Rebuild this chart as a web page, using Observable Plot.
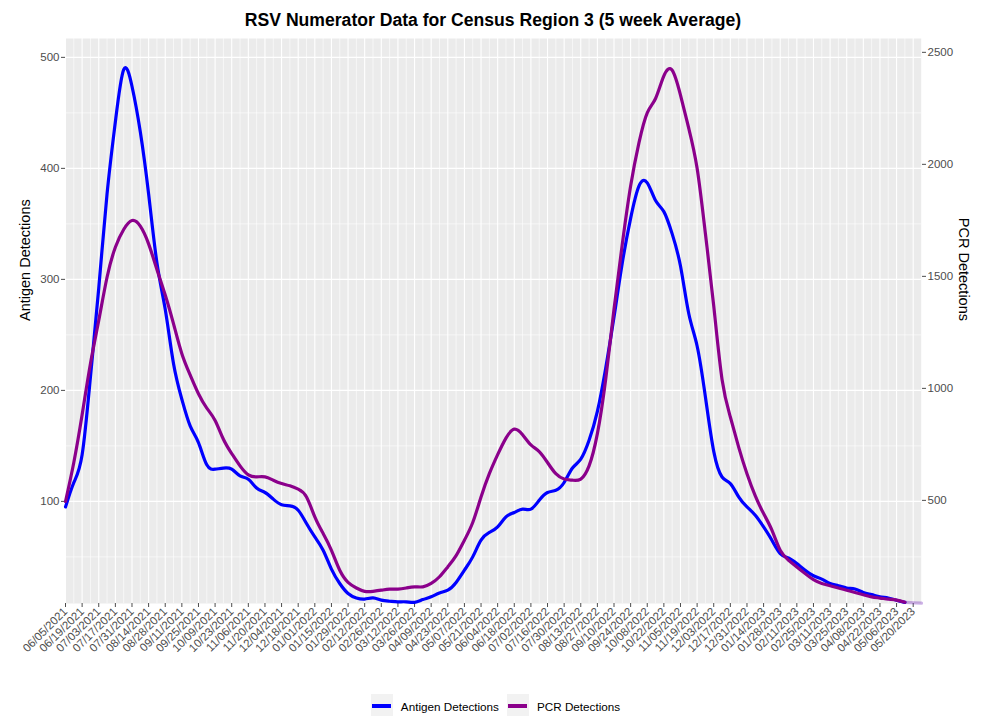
<!DOCTYPE html>
<html>
<head>
<meta charset="utf-8">
<script src="https://cdn.jsdelivr.net/npm/d3@7"></script>
<script src="https://cdn.jsdelivr.net/npm/@observablehq/plot@0.6"></script>
<style>
  html, body { margin: 0; padding: 0; background: white; }
  #wrap { position: relative; width: 991px; height: 716px; font-family: "Liberation Sans", Arial, sans-serif; overflow: hidden; }
  #title { position: absolute; top: 10px; left: 0; width: 986px; text-align: center; font-weight: bold; font-size: 17.6px; color: #000; }
  #chart { position: absolute; top: 32px; left: 0; }
  #legend { position: absolute; top: 694px; left: 0; width: 991px; display: flex; justify-content: center; align-items: center; font-size: 11.7px; color: #000; }
  .key { width: 22px; height: 24px; background: #F2F2F2; display: flex; align-items: center; justify-content: center; margin-right: 8px; }
  .key span { display: block; width: 19px; height: 3.2px; }
  .item { display: flex; align-items: center; margin: 0 4px; }
</style>
</head>
<body>
<div id="wrap">
  <div id="title">RSV Numerator Data for Census Region 3 (5 week Average)</div>
  <div id="chart"></div>
  <div id="legend"></div>
</div>
<script>
// ---- Data (weekly, starting 06/05/2021) ----
const startDate = "06/05/2021";
const antigen = [95,117,142,212,292,377,442,489,474,433,377,315,273,224,192,168,153,133,129,130,
  129,123,120,112,108,102,97,96,92,80,68,56,39,26,17,13,12,13,11,10,
  9.5,9.5,9,11.5,14,17.5,20,27,38,50,65,72,77,86,90,93,93,101,108,110,
  117,130,138,155,181,220,266,315,355,384,387,371,361,341,312,269,240,194,145,122,
  116,104,95,87.5,77,65,53,49,44,38,33,30,26,24,22,21,18,16,14,13,
  11,9,8.6,8.3];
const pcr = [495,669,882,1110,1303,1496,1630,1709,1749,1724,1645,1531,1417,1288,1155,1060,976,912,857,773,
  709,654,614,605,605,590,575,565,550,515,426,352,277,188,134,109,94,94,99,104,
  104,109,114,114,129,159,203,253,322,401,515,619,704,778,818,793,748,718,669,619,
  595,590,595,654,798,1041,1353,1645,1903,2096,2230,2294,2395,2420,2309,2160,1982,1690,1368,1040,
  872,738,619,520,441,367,277,233,203,173,146,129,119,109,99,89,79,69,64,59,
  55,45,43,41];
const xTickLabels = ["06/05/2021","06/19/2021","07/03/2021","07/17/2021","07/31/2021","08/14/2021","08/28/2021","09/11/2021","09/25/2021","10/09/2021","10/23/2021","11/06/2021","11/20/2021","12/04/2021","12/18/2021",
  "01/01/2022","01/15/2022","01/29/2022","02/12/2022","02/26/2022","03/12/2022","03/26/2022","04/09/2022","04/23/2022","05/07/2022","05/21/2022","06/04/2022","06/18/2022","07/02/2022","07/16/2022","07/30/2022","08/13/2022","08/27/2022","09/10/2022","09/24/2022","10/08/2022","10/22/2022","11/05/2022","11/19/2022","12/03/2022","12/17/2022","12/31/2022",
  "01/14/2023","01/28/2023","02/11/2023","02/25/2023","03/11/2023","03/25/2023","04/08/2023","04/22/2023","05/06/2023","05/20/2023"];
const leftTicks = [100, 200, 300, 400, 500];
const leftMinor = [50, 150, 250, 350, 450];
const rightTicks = [500, 1000, 1500, 2000, 2500];
const seriesNames = ["Antigen Detections", "PCR Detections"];
const seriesColors = ["#0000FF", "#8B008B"];
const lastSolidWeek = 101;

// ---- Build table ----
const parse = d3.utcParse("%m/%d/%Y");
const t0 = parse(startDate);
const ratio = 4.955; // PCR per antigen unit (secondary axis)
const rows = antigen.map((a, i) => ({date: d3.utcDay.offset(t0, 7 * i), antigen: a, pcr: pcr[i], i}));
const solid = rows.filter(d => d.i <= lastSolidWeek);
const tail = rows.filter(d => d.i >= lastSolidWeek);
const weeks = rows.map(d => d.date);
const tickDates = xTickLabels.map(parse);

const chart = Plot.plot({
  width: 991,
  height: 650,
  marginTop: 6,
  marginBottom: 79,
  marginLeft: 65,
  marginRight: 70,
  style: {fontFamily: '"Liberation Sans", Arial, sans-serif', fontSize: "11.5px", background: "white", overflow: "visible"},
  x: {type: "utc", domain: [weeks[0], weeks[weeks.length - 1]]},
  y: {domain: [8, 517]},
  marks: [
    Plot.frame({fill: "#EBEBEB", stroke: "none"}),
    Plot.gridY(leftMinor, {stroke: "white", strokeOpacity: 1, strokeWidth: 0.6}),
    Plot.gridY(leftTicks, {stroke: "white", strokeOpacity: 1, strokeWidth: 1.1}),
    Plot.gridX(weeks.filter(w => !tickDates.some(t => +t === +w)), {stroke: "white", strokeOpacity: 1, strokeWidth: 0.6}),
    Plot.gridX(tickDates, {stroke: "white", strokeOpacity: 1, strokeWidth: 1.1}),
    Plot.axisX(tickDates, {anchor: "bottom", tickSize: 4, tickPadding: 2, tickRotate: -45, color: "#4d4d4d",
      tickFormat: d => xTickLabels[tickDates.findIndex(t => +t === +d)], label: null, fontSize: 11.5}),
    Plot.axisY(leftTicks, {anchor: "left", tickSize: 4, tickPadding: 2, color: "#4d4d4d", label: null, fontSize: 11.5}),
    Plot.axisY(rightTicks.map(v => v / ratio), {anchor: "right", tickSize: 4, tickPadding: 2, color: "#4d4d4d", label: null, fontSize: 11.5,
      tickFormat: d => String(Math.round(d * ratio))}),
    Plot.text([seriesNames[0]], {frameAnchor: "left", dx: -40, rotate: -90, fontSize: 14.5, fill: "black"}),
    Plot.text([seriesNames[1]], {frameAnchor: "right", dx: 42, rotate: 90, fontSize: 14.5, fill: "black"}),
    Plot.line(tail, {x: "date", y: "antigen", stroke: seriesColors[0], strokeWidth: 3.2, strokeOpacity: 0.12, curve: "natural"}),
    Plot.line(tail, {x: "date", y: d => d.pcr / ratio, stroke: seriesColors[1], strokeWidth: 3.2, strokeOpacity: 0.2, curve: "natural"}),
    Plot.line(solid, {x: "date", y: "antigen", stroke: seriesColors[0], strokeWidth: 3.2, curve: "natural"}),
    Plot.line(solid, {x: "date", y: d => d.pcr / ratio, stroke: seriesColors[1], strokeWidth: 3.2, curve: "natural"})
  ]
});
document.getElementById("chart").appendChild(chart);

// Legend
const legend = document.getElementById("legend");
seriesNames.forEach((name, i) => {
  const item = document.createElement("div");
  item.className = "item";
  item.innerHTML = `<div class="key"><span style="background:${seriesColors[i]}"></span></div><div>${name}</div>`;
  legend.appendChild(item);
});
</script>
</body>
</html>
